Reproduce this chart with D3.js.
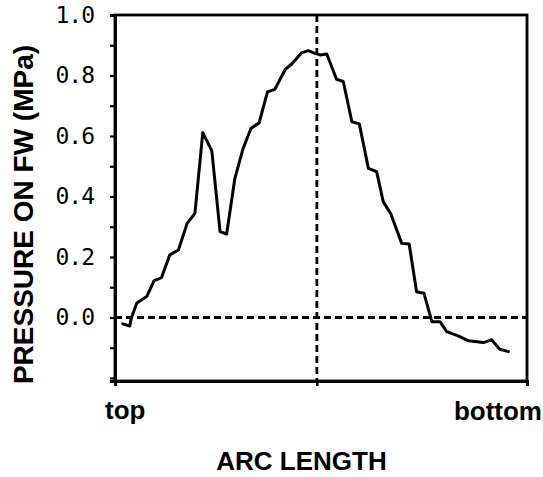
<!DOCTYPE html>
<html>
<head>
<meta charset="utf-8">
<script src="https://cdn.jsdelivr.net/npm/d3@7"></script>
<style>
  body { margin: 0; background: #fff; }
  svg { display: block; }
</style>
</head>
<body>
<div id="chart-area"></div>
<script>
// arc position (0 = top, 1 = bottom) and pressure on FW (MPa)
const arcPos = [0.019, 0.036, 0.039, 0.053, 0.077, 0.095, 0.113, 0.133, 0.154, 0.175,
    0.194, 0.213, 0.235, 0.255, 0.271, 0.291, 0.311, 0.330, 0.350, 0.370,
    0.388, 0.413, 0.429, 0.453, 0.469, 0.485, 0.498, 0.514, 0.538, 0.554,
    0.575, 0.593, 0.615, 0.635, 0.651, 0.669, 0.696, 0.714, 0.732, 0.750,
    0.769, 0.789, 0.805, 0.833, 0.858, 0.894, 0.914, 0.934, 0.955];
const pressure = [-0.021, -0.028, -0.004, 0.048, 0.069, 0.122, 0.132, 0.207, 0.223, 0.311,
    0.344, 0.611, 0.551, 0.284, 0.276, 0.460, 0.559, 0.625, 0.644, 0.746,
    0.754, 0.820, 0.838, 0.875, 0.882, 0.873, 0.868, 0.871, 0.787, 0.780,
    0.647, 0.640, 0.493, 0.482, 0.383, 0.344, 0.245, 0.243, 0.085, 0.080,
    -0.014, -0.014, -0.047, -0.061, -0.077, -0.083, -0.074, -0.105, -0.113];
const yTicks = [-0.2, -0.1, 0.0, 0.1, 0.2, 0.3, 0.4, 0.5, 0.6, 0.7, 0.8, 0.9, 1.0];
const yLabelTicks = [0.0, 0.2, 0.4, 0.6, 0.8, 1.0];
const xTicks = [0, 0.49, 1];
const centerPos = 0.49;
const endLabels = ["top", "bottom"];

(function renderChart() {
    const svgWidth = 543;
    const svgHeight = 477;
    const margin = { top: 15, right: 16, bottom: 96, left: 115 };
    const { top, right, bottom, left } = margin;
    const width = svgWidth - left - right;
    const height = svgHeight - top - bottom;

    const root = d3.select("#chart-area")
        .append("svg")
        .attr("width", svgWidth)
        .attr("height", svgHeight);

    const svg = root.append("g")
        .attr("transform", `translate(${left},${top})`);

    const xScale = d3.scaleLinear().domain([0, 1]).range([0, width]);
    const yScale = d3.scaleLinear().domain([-0.21, 1.0]).range([height, 0]);

    // frame
    svg.append("rect")
        .attr("x", 0)
        .attr("y", 0)
        .attr("width", width)
        .attr("height", height)
        .attr("fill", "none")
        .attr("stroke", "#000")
        .attr("stroke-width", 2.8);

    // left axis
    const yAxis = d3.axisLeft(yScale)
        .tickValues(yTicks)
        .tickSize(5)
        .tickPadding(16)
        .tickFormat(d => yLabelTicks.some(v => Math.abs(v - d) < 1e-9) ? d3.format(".1f")(d) : "");

    const yAxisGroup = svg.append("g")
        .attr("class", "y-axis")
        .call(yAxis);
    yAxisGroup.select(".domain").attr("stroke-width", 2.8);
    yAxisGroup.selectAll(".tick line").attr("stroke-width", 2.2);
    yAxisGroup.selectAll("text")
        .style("font-family", "'DejaVu Sans Mono', monospace")
        .style("font-size", "23px")
        .attr("letter-spacing", "-1")
        .attr("fill", "#000");

    // bottom axis
    const xAxisGroup = svg.append("g")
        .attr("class", "x-axis")
        .attr("transform", `translate(0, ${height})`)
        .call(d3.axisBottom(xScale).tickValues(xTicks).tickSize(5).tickFormat(""));
    xAxisGroup.select(".domain").attr("stroke-width", 2.8);
    xAxisGroup.selectAll(".tick line").attr("stroke-width", 2.4);

    // dashed reference lines
    svg.append("line")
        .attr("x1", 0)
        .attr("x2", width)
        .attr("y1", yScale(0))
        .attr("y2", yScale(0))
        .attr("stroke", "#000")
        .attr("stroke-width", 2.8)
        .attr("stroke-dasharray", "7,4");

    svg.append("line")
        .attr("x1", xScale(centerPos))
        .attr("x2", xScale(centerPos))
        .attr("y1", 0)
        .attr("y2", height)
        .attr("stroke", "#000")
        .attr("stroke-width", 2.8)
        .attr("stroke-dasharray", "7,4");

    // pressure curve
    const points = arcPos.map((x, i) => ({ x, y: pressure[i] }));
    const line = d3.line()
        .x(d => xScale(d.x))
        .y(d => yScale(d.y));

    svg.append("path")
        .datum(points)
        .attr("fill", "none")
        .attr("stroke", "#000")
        .attr("stroke-width", 3)
        .attr("stroke-linejoin", "round")
        .attr("stroke-linecap", "round")
        .attr("d", line);

    // end labels
    svg.append("text")
        .attr("x", xScale(0) - 10)
        .attr("y", height + 38)
        .attr("text-anchor", "start")
        .style("font-family", "'Liberation Sans', Arial, sans-serif")
        .style("font-size", "26px")
        .style("font-weight", "bold")
        .text(endLabels[0]);

    svg.append("text")
        .attr("x", xScale(1) + 15)
        .attr("y", height + 39)
        .attr("text-anchor", "end")
        .style("font-family", "'Liberation Sans', Arial, sans-serif")
        .style("font-size", "26px")
        .style("font-weight", "bold")
        .text(endLabels[1]);

    // axis titles
    svg.append("text")
        .attr("x", 301.5 - left)
        .attr("y", 470 - top)
        .attr("text-anchor", "middle")
        .style("font-family", "'Liberation Sans', Arial, sans-serif")
        .style("font-size", "26px")
        .style("font-weight", "bold")
        .text("ARC LENGTH");

    svg.append("text")
        .attr("transform", "rotate(-90)")
        .attr("x", -(214.5 - top))
        .attr("y", 33 - left)
        .attr("text-anchor", "middle")
        .style("font-family", "'Liberation Sans', Arial, sans-serif")
        .style("font-size", "28px")
        .style("font-weight", "bold")
        .text("PRESSURE ON FW (MPa)");
})();
</script>
</body>
</html>
